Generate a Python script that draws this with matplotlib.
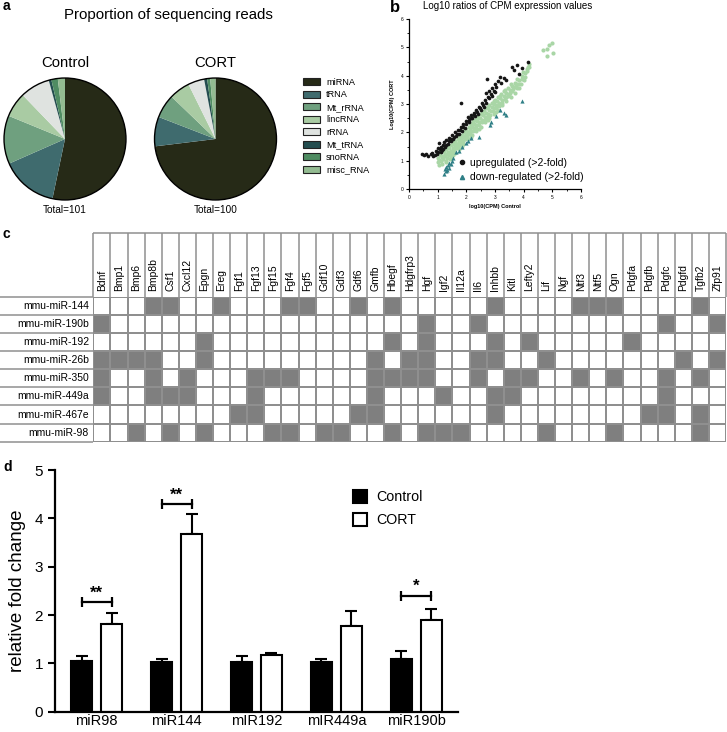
import numpy as np
import matplotlib
matplotlib.use("Agg")
import matplotlib.pyplot as plt
from matplotlib.patches import Patch, Circle
from matplotlib.lines import Line2D
from matplotlib.colors import ListedColormap

plt.rcParams['font.family'] = ['Liberation Sans', 'DejaVu Sans']

W, H = 727, 732

# ---- panel a: read proportions (%)
rna_types = ['miRNA', 'tRNA', 'Mt_rRNA', 'lincRNA', 'rRNA', 'Mt_tRNA', 'snoRNA', 'misc_RNA']
rna_colors = ['#262a17', '#3f6b6e', '#6fa07f', '#a9cba3', '#dfe3e0', '#234d4f', '#4f8c62', '#93bb91']
control_pct = [53.3, 15.1, 12.8, 6.6, 7.9, 0.7, 1.7, 1.9]
cort_pct = [73.0, 7.8, 6.3, 5.5, 4.3, 0.8, 0.8, 1.4]

# ---- panel b: log10(CPM) control vs CORT
green_pts = [
    (1.00, 0.95), (1.02, 1.10), (1.05, 0.85), (1.08, 1.20), (1.10, 1.00), (1.12, 1.30), (1.15, 0.90), (1.18, 1.15),
    (1.20, 1.05), (1.22, 1.35), (1.25, 1.25), (1.28, 0.95), (1.30, 1.40), (1.32, 1.10), (1.35, 1.30), (1.38, 1.20),
    (1.40, 1.45), (1.42, 1.05), (1.45, 1.35), (1.48, 1.55), (1.50, 1.25), (1.52, 1.45), (1.55, 1.60), (1.58, 1.35),
    (1.60, 1.50), (1.62, 1.70), (1.65, 1.45), (1.68, 1.60), (1.70, 1.75), (1.72, 1.50), (1.75, 1.65), (1.78, 1.85),
    (1.80, 1.60), (1.82, 1.75), (1.85, 1.90), (1.88, 1.70), (1.90, 1.85), (1.92, 2.00), (1.95, 1.75), (1.98, 1.95),
    (2.00, 2.10), (2.02, 1.85), (2.05, 2.00), (2.08, 2.20), (2.10, 1.95), (2.12, 2.10), (2.15, 2.30), (2.18, 2.05),
    (2.20, 2.20), (2.22, 2.40), (2.25, 2.15), (2.28, 2.30), (2.30, 2.45), (2.35, 2.25), (2.38, 2.40), (2.40, 2.55),
    (2.45, 2.35), (2.48, 2.50), (2.50, 2.65), (2.55, 2.45), (2.58, 2.60), (2.60, 2.75), (2.65, 2.55), (2.68, 2.70),
    (2.70, 2.85), (2.75, 2.65), (2.78, 2.80), (2.80, 2.95), (2.85, 2.75), (2.88, 2.90), (2.90, 3.05), (2.95, 2.85),
    (2.98, 3.00), (3.00, 3.15), (3.05, 2.95), (3.08, 3.10), (3.10, 3.25), (3.15, 3.05), (3.18, 3.20), (3.20, 3.35),
    (3.25, 3.15), (3.30, 3.30), (3.32, 3.45), (3.38, 3.25), (3.40, 3.40), (3.45, 3.55), (3.50, 3.35), (3.52, 3.50),
    (3.58, 3.65), (3.60, 3.45), (3.65, 3.60), (3.70, 3.75), (3.75, 3.55), (3.78, 3.70), (3.85, 3.85), (3.90, 3.70),
    (3.95, 4.00), (4.00, 3.85), (4.05, 4.10), (4.10, 4.25), (4.15, 4.30), (4.20, 4.30),
    (1.30, 0.98), (1.45, 1.12), (1.60, 1.28), (1.75, 1.42), (1.90, 1.60), (2.05, 1.75), (2.20, 1.90), (2.35, 2.05),
    (2.50, 2.20), (2.65, 2.35), (2.80, 2.50), (2.95, 2.65), (3.10, 2.80), (3.25, 2.95), (3.40, 3.10), (3.55, 3.25),
    (3.70, 3.40), (3.85, 3.55), (1.55, 1.20), (1.85, 1.52), (2.15, 1.82), (2.45, 2.12), (2.75, 2.42), (3.05, 2.72),
    (1.06, 1.02), (1.14, 1.12), (1.24, 1.15), (1.34, 1.22), (1.44, 1.25), (1.54, 1.38), (1.64, 1.58), (1.74, 1.55),
    (1.84, 1.65), (1.94, 1.88), (2.04, 1.92), (2.14, 2.00), (2.24, 2.05), (2.34, 2.15), (2.44, 2.25), (2.54, 2.35),
    (2.64, 2.45), (2.74, 2.55), (2.84, 2.62), (2.94, 2.75), (3.04, 2.85), (3.14, 2.92), (3.24, 3.05), (3.34, 3.18),
    (3.44, 3.28), (3.54, 3.40), (3.64, 3.52), (3.74, 3.65), (3.84, 3.72), (3.94, 3.88), (4.04, 3.95), (4.12, 4.18),
    (1.16, 1.40), (1.36, 1.50), (1.56, 1.70), (1.76, 1.92), (1.96, 2.12), (2.16, 2.22), (2.36, 2.52), (2.56, 2.72),
    (2.76, 2.90), (2.96, 3.10), (3.16, 3.30), (3.36, 3.50), (3.56, 3.70), (3.76, 3.90), (3.96, 4.12), (4.18, 4.40),
    (4.66, 4.90), (4.80, 4.93), (4.90, 5.08), (4.98, 5.16), (4.83, 4.70), (5.03, 4.81),
]
black_pts = [
    (0.45, 1.22), (0.52, 1.20), (0.60, 1.25), (0.68, 1.18), (0.75, 1.22), (0.80, 1.28), (0.85, 1.15), (0.90, 1.20),
    (0.95, 1.35), (1.00, 1.30), (1.02, 1.45), (1.05, 1.62), (1.08, 1.40), (1.12, 1.50), (1.15, 1.38), (1.18, 1.55),
    (1.22, 1.65), (1.25, 1.48), (1.30, 1.72), (1.35, 1.60), (1.40, 1.80), (1.45, 1.70), (1.50, 1.90), (1.55, 1.78),
    (1.60, 2.00), (1.65, 1.88), (1.70, 2.10), (1.75, 1.95), (1.80, 3.02), (1.80, 2.20), (1.85, 2.05), (1.90, 2.30),
    (1.95, 2.15), (2.00, 2.40), (2.05, 2.55), (2.10, 2.45), (2.15, 2.60), (2.20, 2.50), (2.25, 2.70), (2.30, 2.58),
    (2.35, 2.80), (2.40, 2.65), (2.45, 2.90), (2.50, 2.78), (2.55, 3.05), (2.60, 2.90), (2.65, 3.15), (2.70, 3.38),
    (2.73, 3.88), (2.75, 3.25), (2.80, 3.45), (2.85, 3.35), (2.90, 3.55), (2.95, 3.45), (3.00, 3.70), (3.05, 3.60),
    (3.10, 3.80), (3.17, 3.94), (3.20, 3.75), (3.30, 3.92), (3.40, 3.85), (3.58, 4.32), (3.66, 4.20), (3.75, 4.38),
    (3.85, 4.05), (3.93, 4.26), (4.16, 4.50),
    (0.98, 1.25), (1.10, 1.32), (1.20, 1.42), (1.28, 1.55), (1.38, 1.68), (1.48, 1.75), (1.58, 1.85), (1.68, 1.95),
    (1.78, 2.08), (1.88, 2.18), (1.98, 2.30), (2.08, 2.38), (2.18, 2.52), (2.28, 2.62), (2.38, 2.72), (2.48, 2.85),
    (2.58, 2.95), (2.68, 3.05), (2.78, 3.20), (2.88, 3.30), (3.00, 3.42),
]
teal_pts = [
    (1.22, 0.54), (1.25, 0.70), (1.28, 0.62), (1.30, 0.78), (1.32, 0.68), (1.35, 0.85), (1.38, 0.75), (1.40, 0.92),
    (1.45, 0.88), (1.50, 1.00), (1.55, 1.10), (1.65, 1.30), (1.75, 1.35), (1.85, 1.50), (1.98, 1.62), (2.05, 1.70),
    (2.15, 1.80), (2.44, 1.82), (2.82, 2.25), (2.85, 2.35), (3.05, 2.56), (3.17, 2.79), (3.30, 2.70), (3.40, 2.62),
    (3.93, 3.09),
]

# ---- panel c: predicted targets
genes = ['Bdnf', 'Bmp1', 'Bmp6', 'Bmp8b', 'Csf1', 'Cxcl12', 'Epgn', 'Ereg', 'Fgf1', 'Fgf13', 'Fgf15', 'Fgf4',
         'Fgf5', 'Gdf10', 'Gdf3', 'Gdf6', 'Gmfb', 'Hbegf', 'Hdgfrp3', 'Hgf', 'Igf2', 'Il12a', 'Il6', 'Inhbb',
         'Kitl', 'Lefty2', 'Lif', 'Ngf', 'Ntf3', 'Ntf5', 'Ogn', 'Pdgfa', 'Pdgfb', 'Pdgfc', 'Pdgfd', 'Tgfb2', 'Zfp91']
mirnas = ['mmu-miR-144', 'mmu-miR-190b', 'mmu-miR-192', 'mmu-miR-26b', 'mmu-miR-350',
          'mmu-miR-449a', 'mmu-miR-467e', 'mmu-miR-98']
targets = {
    'mmu-miR-144': ['Bmp8b', 'Csf1', 'Ereg', 'Fgf4', 'Fgf5', 'Gdf6', 'Hbegf', 'Inhbb', 'Ntf3', 'Ntf5', 'Ogn', 'Tgfb2'],
    'mmu-miR-190b': ['Bdnf', 'Hgf', 'Il6', 'Pdgfc', 'Zfp91'],
    'mmu-miR-192': ['Epgn', 'Hbegf', 'Hgf', 'Inhbb', 'Lefty2', 'Pdgfa'],
    'mmu-miR-26b': ['Bdnf', 'Bmp1', 'Bmp6', 'Bmp8b', 'Epgn', 'Gmfb', 'Hdgfrp3', 'Hgf', 'Il6', 'Inhbb', 'Lif',
                    'Pdgfd', 'Zfp91'],
    'mmu-miR-350': ['Bdnf', 'Bmp8b', 'Cxcl12', 'Fgf13', 'Fgf15', 'Fgf4', 'Gmfb', 'Hbegf', 'Hdgfrp3', 'Hgf', 'Il6',
                    'Kitl', 'Lefty2', 'Ntf3', 'Ogn', 'Pdgfc', 'Tgfb2'],
    'mmu-miR-449a': ['Bdnf', 'Bmp8b', 'Csf1', 'Cxcl12', 'Fgf13', 'Gmfb', 'Igf2', 'Inhbb', 'Kitl', 'Pdgfc'],
    'mmu-miR-467e': ['Fgf1', 'Fgf13', 'Gdf6', 'Gmfb', 'Inhbb', 'Pdgfb', 'Pdgfc', 'Tgfb2'],
    'mmu-miR-98': ['Bmp6', 'Csf1', 'Epgn', 'Fgf15', 'Fgf4', 'Gdf10', 'Gdf3', 'Hbegf', 'Hgf', 'Igf2', 'Il12a',
                   'Lif', 'Ogn', 'Tgfb2'],
}

# ---- panel d: qPCR
qpcr_labels = ['miR98', 'miR144', 'mIR192', 'mIR449a', 'miR190b']
control_fc = [1.05, 1.02, 1.03, 1.03, 1.08]
control_err = [0.11, 0.06, 0.12, 0.07, 0.17]
cort_fc = [1.82, 3.67, 1.18, 1.77, 1.89]
cort_err = [0.22, 0.42, 0.04, 0.32, 0.23]
sig_idx = [0, 1, 4]
sig_y = [2.26, 4.29, 2.40]
sig_text = ['**', '**', '*']


def rect(x0, y0, x1, y1):
    return [x0 / W, 1 - y1 / H, (x1 - x0) / W, (y1 - y0) / H]


fig = plt.figure(figsize=(W / 100, H / 100), dpi=100)

# panel letters
fig.text(3 / W, 1 - 6 / H, 'a', fontsize=10, fontweight='bold', va='center')
fig.text(390 / W, 1 - 7 / H, 'b', fontsize=12, fontweight='bold', va='center')
fig.text(3 / W, 1 - 234 / H, 'c', fontsize=10, fontweight='bold', va='center')
fig.text(3 / W, 1 - 467 / H, 'd', fontsize=10, fontweight='bold', va='center')

# ---------------- a
fig.text(168 / W, 1 - 15 / H, 'Proportion of sequencing reads', fontsize=10.8, ha='center', va='center')
for cx, title, vals, total in [(65, 'Control', control_pct, 'Total=101'), (215.5, 'CORT', cort_pct, 'Total=100')]:
    ax = fig.add_axes(rect(cx - 62.2, 139 - 62.2, cx + 62.2, 139 + 62.2))
    ax.pie(vals, colors=rna_colors, startangle=90, counterclock=False, wedgeprops=dict(linewidth=0))
    ax.add_patch(Circle((0, 0), 1, fill=False, ec='black', lw=1))
    ax.set_xlim(-1.02, 1.02)
    ax.set_ylim(-1.02, 1.02)
    ax.set_aspect('equal')
    fig.text(cx / W, 1 - 63 / H, title, fontsize=10.7, ha='center', va='center')
    fig.text(cx / W, 1 - 210 / H, total, fontsize=7.2, ha='center', va='center')

handles = [Patch(facecolor=c, edgecolor='#222222', lw=0.8) for c in rna_colors]
fig.legend(handles, rna_types, loc='upper left', bbox_to_anchor=(303 / W, 1 - 78 / H), frameon=False,
           fontsize=6.6, handlelength=1.9, handleheight=0.8, handletextpad=0.6, labelspacing=0.38,
           borderpad=0, borderaxespad=0)

# ---------------- b
axb = fig.add_axes(rect(409, 19, 581, 189))
gx, gy = zip(*green_pts)
bx, by = zip(*black_pts)
tx, ty = zip(*teal_pts)
axb.scatter(gx, gy, s=9, color='#a9d6a6', linewidths=0, zorder=2)
axb.scatter(bx, by, s=7, color='#151515', linewidths=0, zorder=3)
axb.scatter(tx, ty, s=9, marker='^', color='#2f7f86', linewidths=0, zorder=3)
axb.set_xlim(0, 6)
axb.set_ylim(0, 6)
axb.set_xticks(range(7))
axb.set_yticks(range(7))
axb.set_xticks(np.arange(0, 6.01, 0.5), minor=True)
axb.set_yticks(np.arange(0, 6.01, 0.5), minor=True)
axb.tick_params(labelsize=3.5, length=2.5, width=0.8, pad=1.5)
axb.tick_params(which='minor', length=1.5, width=0.6)
for s in ['top', 'right']:
    axb.spines[s].set_visible(False)
for s in ['left', 'bottom']:
    axb.spines[s].set_linewidth(0.9)
axb.set_xlabel('log10(CPM) Control', fontsize=4, fontweight='bold', labelpad=3)
axb.set_ylabel('Log10(CPM) CORT', fontsize=4, fontweight='bold', labelpad=4)
fig.text(423 / W, 1 - 6 / H, 'Log10 ratios of CPM expression values', fontsize=7, va='center')
leg_h = [Line2D([], [], ls='none', marker='o', color='#151515', markersize=3),
         Line2D([], [], ls='none', marker='^', color='#2f7f86', markersize=3)]
axb.legend(leg_h, ['upregulated (>2-fold)', 'down-regulated (>2-fold)'], loc='upper left',
           bbox_to_anchor=(458 / W, 1 - 158 / H), bbox_transform=fig.transFigure, frameon=False,
           fontsize=7.5, handlelength=0.8, handletextpad=0.4, labelspacing=0.4, borderpad=0, borderaxespad=0)

# ---------------- c
cell_w = (726 - 93.3) / len(genes)
row_h = (441.7 - 296.7) / len(mirnas)
head_h = (296.7 - 232.7) / row_h
lab_w = 93.3 / cell_w
mat = np.array([[1 if g in targets[m] else 0 for g in genes] for m in mirnas])
axc = fig.add_axes(rect(93.3, 296.7, 726, 441.7))
axc.pcolormesh(mat, cmap=ListedColormap(['white', '#7f7f7f']), edgecolors='#8f8f8f', linewidth=1.1)
axc.set_xlim(0, len(genes))
axc.set_ylim(len(mirnas), 0)
axc.axis('off')
axc.vlines(np.arange(len(genes) + 1), -head_h, 0, color='#8f8f8f', lw=1.1, clip_on=False)
axc.hlines(-head_h, 0, len(genes), color='#8f8f8f', lw=1.1, clip_on=False)
axc.hlines(np.arange(len(mirnas) + 1), -lab_w, 0, color='#8f8f8f', lw=1.1, clip_on=False)
for i, g in enumerate(genes):
    axc.text(i + 0.5, -0.3, g, rotation=90, ha='center', va='bottom', fontsize=7.5)
for j, m in enumerate(mirnas):
    axc.text(-0.25, j + 0.5, m, ha='right', va='center', fontsize=7.5)

# ---------------- d
axd = fig.add_axes(rect(55, 470, 458, 711.7))
x = np.arange(len(qpcr_labels))
bw = 0.2625
off = 0.1875
axd.bar(x - off, control_fc, bw, color='black', edgecolor='black', lw=1.5, label='Control', zorder=2)
axd.bar(x + off, cort_fc, bw, color='white', edgecolor='black', lw=1.5, label='CORT', zorder=2)
axd.errorbar(x - off, control_fc, yerr=[np.zeros(len(x)), control_err], fmt='none', ecolor='black',
             elinewidth=1.5, capsize=4.5, capthick=1.5, zorder=1)
axd.errorbar(x + off, cort_fc, yerr=[np.zeros(len(x)), cort_err], fmt='none', ecolor='black',
             elinewidth=1.5, capsize=4.5, capthick=1.5, zorder=1)
for i, yv, t in zip(sig_idx, sig_y, sig_text):
    axd.plot([i - off, i + off], [yv, yv], color='black', lw=1.6, marker='|', markersize=7, mew=1.6)
    axd.text(i, yv + 0.04, t, ha='center', va='bottom', fontsize=12, fontweight='bold')
axd.set_xlim(-0.52, 4.52)
axd.set_ylim(0, 5)
axd.set_xticks(x)
axd.set_xticklabels(qpcr_labels, fontsize=10.5)
axd.set_yticks(range(6))
axd.tick_params(axis='y', labelsize=11, width=1.5, length=5)
axd.tick_params(axis='x', length=0, pad=1.5)
for s in ['top', 'right']:
    axd.spines[s].set_visible(False)
for s in ['left', 'bottom']:
    axd.spines[s].set_linewidth(1.6)
axd.set_ylabel('relative fold change', fontsize=13.5, labelpad=6)
axd.legend(loc='upper left', bbox_to_anchor=(353 / W, 1 - 490 / H), bbox_transform=fig.transFigure,
           frameon=False, fontsize=10.3, handlelength=1.0, handleheight=1.0, handletextpad=0.6,
           labelspacing=0.6, borderpad=0, borderaxespad=0)

fig.savefig('out.png', dpi=100)
